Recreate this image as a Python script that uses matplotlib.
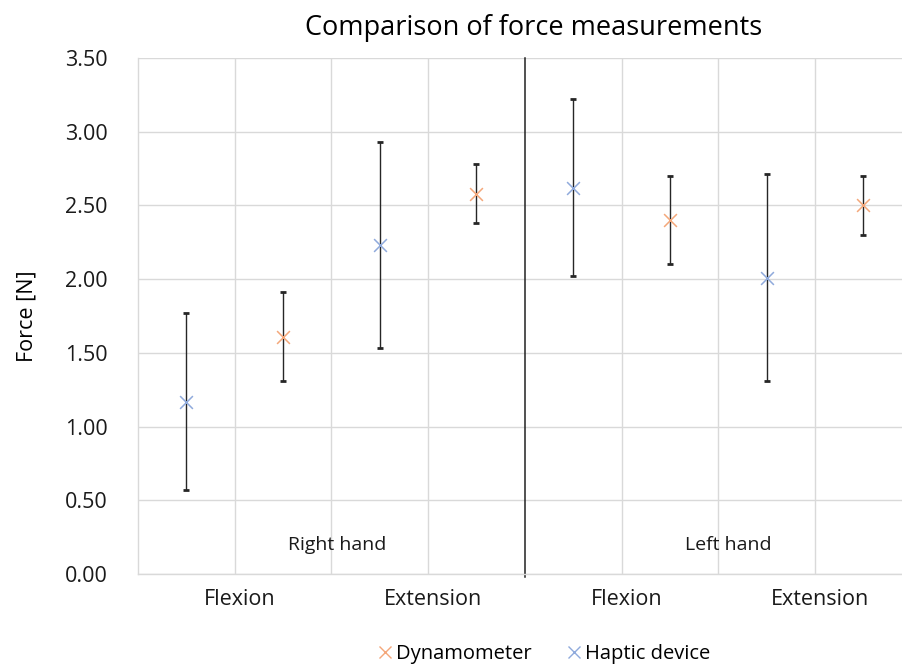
import matplotlib.pyplot as plt
from matplotlib.lines import Line2D

plt.rcParams["font.family"] = ["Open Sans", "DejaVu Sans"]

categories = ["Flexion", "Extension", "Flexion", "Extension"]
groups = ["Right hand", "Left hand"]

haptic_mean = [1.17, 2.23, 2.62, 2.01]
haptic_err = [0.60, 0.70, 0.60, 0.70]
dyna_mean = [1.61, 2.58, 2.40, 2.50]
dyna_err = [0.30, 0.20, 0.30, 0.20]

ORANGE = "#F4A77A"
BLUE = "#8FAADC"
GRID = "#D9D9D9"
TXT = "#1a1a1a"

fig = plt.figure(figsize=(9.02, 6.66), dpi=100)
ax = fig.add_axes([0.153, 0.138, 0.847, 0.775])

haptic_x = [2 * i + 0.5 for i in range(len(categories))]
dyna_x = [2 * i + 1.5 for i in range(len(categories))]

for xs, means, errs, col in [(haptic_x, haptic_mean, haptic_err, BLUE),
                             (dyna_x, dyna_mean, dyna_err, ORANGE)]:
    ax.errorbar(xs, means, yerr=errs, fmt="none", ecolor="#262626",
                elinewidth=1.0, capsize=2.3, capthick=2.0, zorder=3)
    ax.scatter(xs, means, marker="x", s=85, color=col, linewidths=1.1, zorder=4)

ax.set_xlim(0, 7.9)
ax.set_ylim(0, 3.5)
ax.set_yticks([i * 0.5 for i in range(8)])
ax.set_yticklabels([f"{i * 0.5:.2f}" for i in range(8)], fontsize=15.5, color=TXT)

ax.set_xticks([1.05, 3.05, 5.05, 7.05])
ax.set_xticklabels(categories, fontsize=15.5, color=TXT)
ax.tick_params(length=0)
ax.tick_params(axis="x", pad=11)
ax.tick_params(axis="y", pad=22)

ax.yaxis.grid(True, color=GRID, linewidth=1)
for xv in range(1, 8):
    if xv == 4:
        ax.plot([xv, xv], [-0.02, 3.5], color="#222222", linewidth=1.1,
                clip_on=False, zorder=2)
    else:
        ax.axvline(xv, color=GRID, linewidth=1, zorder=1)
ax.set_axisbelow(True)

for s in ["top", "right"]:
    ax.spines[s].set_visible(False)
ax.spines["left"].set_color(GRID)
ax.spines["bottom"].set_color(GRID)
ax.spines["left"].set_linewidth(1)
ax.spines["bottom"].set_linewidth(1)

ax.text(2.06, 0.2, groups[0], ha="center", va="center", fontsize=14, color=TXT)
ax.text(6.1, 0.2, groups[1], ha="center", va="center", fontsize=14, color=TXT)

ax.set_ylabel("Force [N]", fontsize=15.5, color="black")
ax.yaxis.set_label_coords(-0.132, 0.5)
fig.text(0.592, 0.958, "Comparison of force measurements", ha="center", va="center",
         fontsize=19.5, color="black")

handles = [
    Line2D([], [], marker="x", linestyle="none", color=ORANGE, markersize=9, label="Dynamometer"),
    Line2D([], [], marker="x", linestyle="none", color=BLUE, markersize=9, label="Haptic device"),
]
fig.legend(handles=handles, loc="center", bbox_to_anchor=(0.602, 0.018), ncol=2,
           frameon=False, fontsize=14.5, handletextpad=0.05, columnspacing=1.6,
           handlelength=1.0)

fig.savefig("out.png", dpi=100)
